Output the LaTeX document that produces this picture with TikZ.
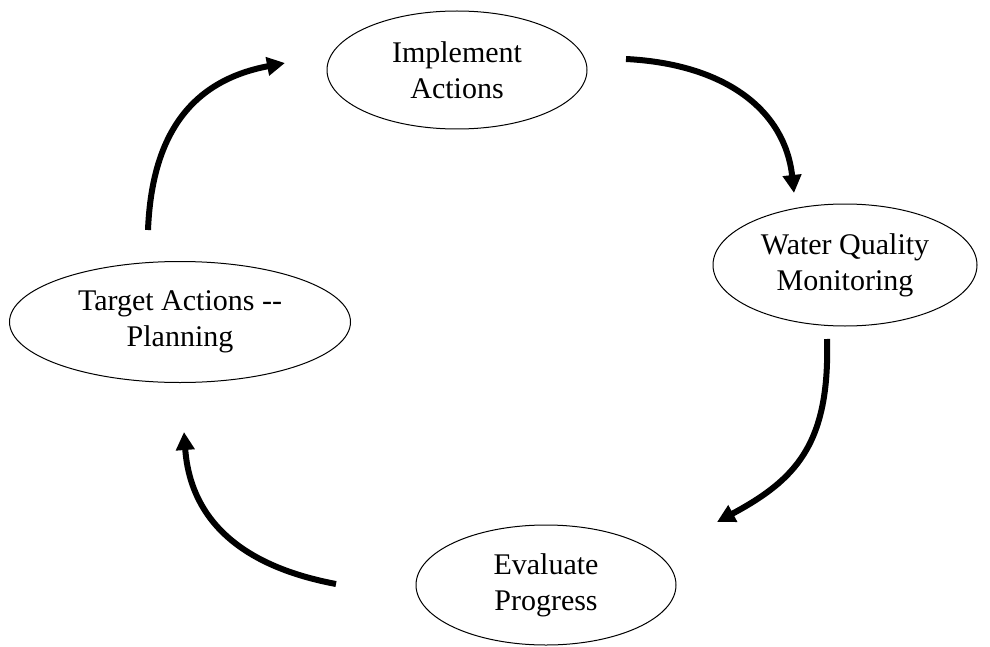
\documentclass[tikz,border=0pt]{standalone}
\usepackage{fontspec}
\setmainfont{Liberation Serif}
\usetikzlibrary{shapes.geometric,arrows.meta}
\begin{document}
\begin{tikzpicture}[x=0.5pt,y=-0.5pt,
        stage/.style={draw,ellipse,line width=0.5pt,inner sep=0pt,align=center,
            font=\fontsize{15}{18}\selectfont},
        cyclearrow/.style={line width=3pt,-{Triangle[length=9pt,width=9pt]}}]
                \useasboundingbox (0,0) rectangle (990,647);

                \node[stage,minimum width=130pt,minimum height=59pt]
                    (impl) at (457,70) {Implement\\Actions};
                \node[stage,minimum width=132pt,minimum height=61pt]
                    (water) at (845,265) {Water Quality\\Monitoring};
                \node[stage,minimum width=130pt,minimum height=60pt]
                    (eval) at (546,585) {Evaluate\\Progress};
                \node[stage,minimum width=170.5pt,minimum height=60.5pt]
                    (plan) at (180,322) {Target Actions -{}-\\Planning};

                \coordinate (plan-out) at (148,230);
                \coordinate (impl-in) at (285,63);
                \coordinate (impl-out) at (626,59);
                \coordinate (water-in) at (794,193);
                \coordinate (water-out) at (827,339);
                \coordinate (eval-in) at (717,522);
                \coordinate (eval-out) at (336,584);
                \coordinate (plan-in) at (184,432);

                \draw[cyclearrow] (plan-out) .. controls (152,130) and (195,80) .. (impl-in);
                \draw[cyclearrow] (impl-out) .. controls (725,64) and (785,110) .. (water-in);
                \draw[cyclearrow] (water-out) .. controls (830,445) and (795,480) .. (eval-in);
                \draw[cyclearrow] (eval-out) .. controls (235,565) and (190,515) .. (plan-in);
            \end{tikzpicture}
\end{document}
